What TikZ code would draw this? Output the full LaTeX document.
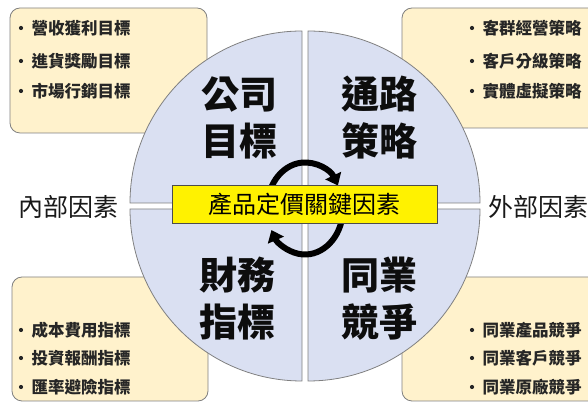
\documentclass[tikz,border=0pt]{standalone}
\usepackage{fontspec}
\newfontfamily\cjk{Noto Sans CJK TC}
\usetikzlibrary{arrows.meta,calc}
\definecolor{quadfill}{RGB}{218,224,242}
\definecolor{notefill}{RGB}{255,242,204}
\definecolor{edgegray}{RGB}{128,128,128}
\newcommand\itemtext[4]{%
  \node[bulletdot] (#1-b) at (#2,#3) {};
  \node[itemtxt] (#1) at (#2+10.5,#3) {#4};}
\begin{document}
\begin{tikzpicture}[x=1pt,y=1pt,
  notebox/.style={draw=edgegray,fill=notefill,rounded corners=10pt,line width=0.8pt},
  quadrant/.style={draw=edgegray,fill=quadfill,line width=0.8pt},
  bigtxt/.style={font=\cjk\bfseries\fontsize{38}{47}\selectfont,align=center,inner sep=0pt,text=black!95},
  itemtxt/.style={font=\cjk\bfseries\fontsize{16.5}{20}\selectfont,anchor=west,inner sep=0pt,text=black!85},
  bulletdot/.style={circle,fill=black!85,inner sep=0pt,minimum size=4.2pt},
  sidetxt/.style={font=\cjk\fontsize{25}{28}\selectfont,inner sep=0pt,text=black!90},
  cyc/.style={line width=6pt,-{Triangle[width=17pt,length=11pt]}},
  keybox/.style={draw=black!70,fill=yellow,line width=0.8pt,minimum width=265pt,minimum height=38pt,
    font=\cjk\fontsize{24}{28}\selectfont,inner sep=0pt}]
\useasboundingbox (0,0) rectangle (588,403);
% note boxes
\draw[notebox] (10,270) rectangle (207,395);
\draw[notebox] (402,275) rectangle (600,395);
\draw[notebox] (12,2) rectangle (208,126);
\draw[notebox] (402,2) rectangle (600,126);
% quadrants
\draw[quadrant] (302,200) -- (130,200) arc[start angle=180,end angle=90,radius=172pt] -- cycle;
\draw[quadrant] (308,200) -- (308,372) arc[start angle=90,end angle=0,radius=172pt] -- cycle;
\draw[quadrant] (302,194) -- (302,22) arc[start angle=270,end angle=180,radius=172pt] -- cycle;
\draw[quadrant] (308,194) -- (480,194) arc[start angle=0,end angle=-90,radius=172pt] -- cycle;
% quadrant texts
\node[bigtxt] (tl) at (239,285.5) {公司\\目標};
\node[bigtxt] (tr) at (379,285.5) {通路\\策略};
\node[bigtxt] (bl) at (237,104) {財務\\指標};
\node[bigtxt] (br) at (379,104) {同業\\競爭};
% cycle arrows
\coordinate (cc) at (305,194.5);
\draw[cyc] ($(cc)+(185:38 and 46)$) arc[start angle=185,end angle=30,x radius=38pt,y radius=46pt];
\draw[cyc] ($(cc)+(-10:38 and 46)$) arc[start angle=-10,end angle=-152,x radius=38pt,y radius=46pt];
% central key box
\node[keybox] (key) at (304.5,199) {產品定價關鍵因素};
% side labels
\node[sidetxt] (inner) at (68,196) {內部因素};
\node[sidetxt,anchor=west] (outer) at (488,196) {外部因素};
% items
\itemtext{a1}{21}{375}{營收獲利目標}
\itemtext{a2}{21}{342}{進貨獎勵目標}
\itemtext{a3}{21}{312}{市場行銷目標}
\itemtext{b1}{472}{375}{客群經營策略}
\itemtext{b2}{472}{342}{客戶分級策略}
\itemtext{b3}{472}{312}{實體虛擬策略}
\itemtext{c1}{21}{73}{成本費用指標}
\itemtext{c2}{21}{45}{投資報酬指標}
\itemtext{c3}{21}{16}{匯率避險指標}
\itemtext{d1}{472}{73}{同業產品競爭}
\itemtext{d2}{472}{45}{同業客戶競爭}
\itemtext{d3}{472}{16}{同業原廠競爭}
\end{tikzpicture}
\end{document}
